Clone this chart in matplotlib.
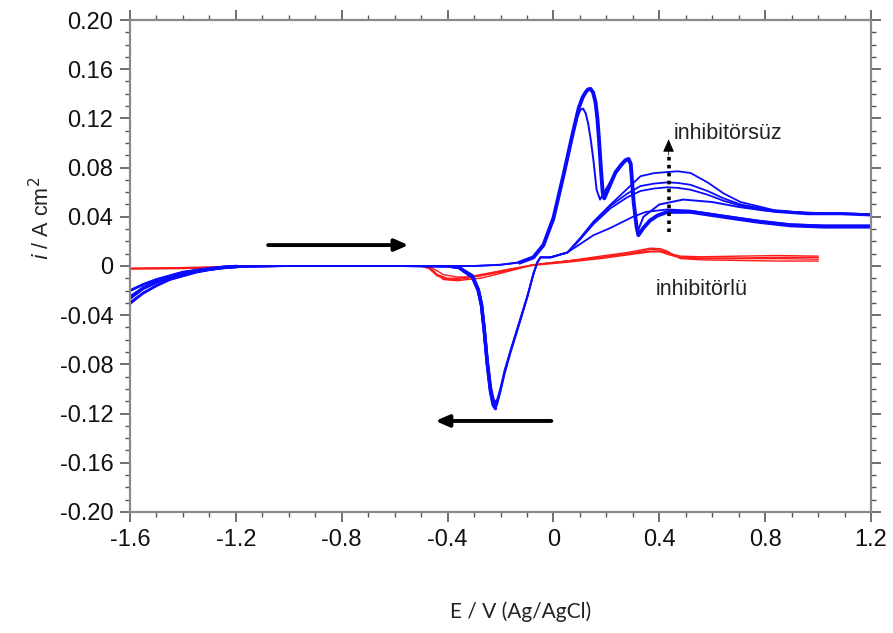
import matplotlib
matplotlib.use("Agg")
import matplotlib.pyplot as plt
from matplotlib.ticker import MultipleLocator, FixedLocator

# ---------------- data ----------------
# Blue: without inhibitor (inhibitörsüz) – forward scans
blue_f1_x = [-1.6, -1.55, -1.5, -1.45, -1.4, -1.35, -1.3, -1.25, -1.2, -1.0, -0.6, -0.3, -0.2,
             -0.125, -0.076, -0.038, 0.0, 0.038, 0.072, 0.095, 0.110, 0.121, 0.130, 0.140, 0.150, 0.159,
             0.166, 0.172, 0.180, 0.186, 0.192, 0.210, 0.234, 0.255, 0.272, 0.284, 0.292, 0.303, 0.314,
             0.321, 0.340, 0.365, 0.393, 0.431, 0.518, 0.643, 0.772, 0.896, 1.021, 1.2]
blue_f1_y = [-0.026, -0.018, -0.013, -0.009, -0.006, -0.004, -0.0025, -0.0012, -0.0005, 0.0, 0.0, 0.0, 0.001,
             0.003, 0.007, 0.017, 0.039, 0.074, 0.107, 0.128, 0.137, 0.141, 0.1435, 0.144, 0.141, 0.133,
             0.120, 0.103, 0.077, 0.060, 0.055, 0.064, 0.076, 0.082, 0.086, 0.087, 0.083, 0.052, 0.032,
             0.025, 0.031, 0.037, 0.041, 0.044, 0.044, 0.040, 0.036, 0.033, 0.032, 0.032]

blue_f2_x = [-1.6, -1.55, -1.5, -1.45, -1.4, -1.35, -1.3, -1.25, -1.2, -1.0, -0.6, -0.3, -0.2,
             -0.125, -0.076, -0.038, 0.0, 0.038, 0.072, 0.090, 0.102, 0.112, 0.122, 0.132, 0.142, 0.151,
             0.163, 0.176, 0.200, 0.234, 0.270, 0.282, 0.290, 0.301, 0.312, 0.318, 0.340, 0.40, 0.49, 0.60,
             0.70, 0.80, 1.0, 1.2]
blue_f2_y = [-0.031, -0.022, -0.016, -0.011, -0.008, -0.005, -0.003, -0.0015, -0.0006, 0.0, 0.0, 0.0, 0.001,
             0.003, 0.007, 0.016, 0.037, 0.072, 0.105, 0.121, 0.127, 0.128, 0.124, 0.115, 0.101, 0.086,
             0.062, 0.054, 0.063, 0.075, 0.085, 0.086, 0.083, 0.054, 0.034, 0.028, 0.040, 0.050, 0.054, 0.052,
             0.048, 0.045, 0.043, 0.042]

# Blue reverse scans (from +1.2 back to -1.6)
blue_r_x = [1.2, 1.085, 0.961, 0.832, 0.707, 0.643, 0.582, 0.518, 0.470, 0.431, 0.380, 0.329, 0.280, 0.216,
            0.151, 0.102, 0.053, -0.011, -0.049, -0.061, -0.076, -0.098, -0.130, -0.163, -0.185, -0.200,
            -0.212, -0.219, -0.228, -0.238, -0.250, -0.262, -0.272, -0.284, -0.306, -0.352, -0.40, -0.6,
            -1.0, -1.2, -1.25, -1.3, -1.35, -1.4, -1.45, -1.5, -1.55, -1.6]
blue_r1_y = [0.042, 0.043, 0.043, 0.0455, 0.052, 0.059, 0.068, 0.0756, 0.077, 0.0764, 0.0755, 0.073, 0.063,
             0.050, 0.036, 0.023, 0.011, 0.007, 0.007, 0.003, -0.007, -0.025, -0.048, -0.071, -0.088,
             -0.102, -0.112, -0.116, -0.113, -0.102, -0.080, -0.052, -0.032, -0.020, -0.009, -0.002,
             -0.0005, 0.0, 0.0, -0.0006, -0.0015, -0.003, -0.005, -0.008, -0.011, -0.016, -0.022, -0.030]
blue_r2_y = [0.042, 0.043, 0.043, 0.045, 0.050, 0.055, 0.061, 0.066, 0.0675, 0.068, 0.067, 0.065, 0.059,
             0.049, 0.035, 0.022, 0.011, 0.007, 0.007, 0.003, -0.007, -0.024, -0.046, -0.069, -0.085,
             -0.099, -0.108, -0.111, -0.109, -0.099, -0.078, -0.050, -0.031, -0.019, -0.008, -0.002,
             -0.0005, 0.0, 0.0, -0.0005, -0.0012, -0.0025, -0.004, -0.006, -0.009, -0.013, -0.018, -0.025]
blue_r3_y = [0.041, 0.042, 0.042, 0.044, 0.049, 0.053, 0.058, 0.062, 0.0635, 0.064, 0.063, 0.061, 0.056,
             0.047, 0.034, 0.022, 0.011, 0.007, 0.007, 0.003, -0.006, -0.024, -0.047, -0.070, -0.087,
             -0.101, -0.110, -0.113, -0.111, -0.101, -0.079, -0.051, -0.032, -0.020, -0.009, -0.002,
             -0.0005, 0.0, 0.0, -0.0004, -0.001, -0.002, -0.0035, -0.005, -0.008, -0.011, -0.015, -0.020]
blue_r4_x = [1.2, 1.02, 0.896, 0.772, 0.643, 0.518, 0.431, 0.35, 0.30, 0.216, 0.151, 0.102, 0.053, -0.011]
blue_r4_y = [0.033, 0.033, 0.034, 0.037, 0.041, 0.045, 0.046, 0.044, 0.040, 0.031, 0.025, 0.018, 0.011, 0.007]

# Red: with inhibitor (inhibitörlü)
red_f_x = [-1.6, -1.4, -1.3, -1.2, -0.8, -0.5, -0.465, -0.439, -0.416, -0.363, -0.325, -0.276, -0.200,
           -0.076, 0.05, 0.178, 0.28, 0.367, 0.405, 0.431, 0.454, 0.48, 0.556, 0.70, 0.85, 1.0]
red_f1_y = [-0.002, -0.002, -0.0015, -0.0005, 0.0, 0.0, -0.0016, -0.007, -0.011, -0.012, -0.011, -0.010, -0.006,
            0.001, 0.004, 0.007, 0.010, 0.0135, 0.0130, 0.011, 0.009, 0.007, 0.0065, 0.0065, 0.007, 0.007]
red_f2_y = [-0.0025, -0.002, -0.0015, -0.0005, 0.0, 0.0, -0.001, -0.004, -0.007, -0.009, -0.009, -0.008, -0.005,
            0.001, 0.004, 0.008, 0.011, 0.0145, 0.0140, 0.012, 0.009, 0.006, 0.005, 0.0045, 0.004, 0.004]
red_r_x = [1.0, 0.85, 0.70, 0.556, 0.48, 0.431, 0.405, 0.367, 0.28, 0.178, 0.05, -0.076, -0.15, -0.2,
           -0.276, -0.325, -0.363, -0.40, -0.44, -0.47, -0.5, -0.8, -1.2, -1.3, -1.6]
red_r1_y = [0.008, 0.0085, 0.008, 0.0075, 0.008, 0.0105, 0.012, 0.012, 0.010, 0.007, 0.004, 0.001, -0.002, -0.004,
            -0.007, -0.009, -0.010, -0.010, -0.007, -0.002, 0.0, 0.0, 0.0, -0.001, -0.002]
red_r2_y = [0.0055, 0.006, 0.006, 0.006, 0.0065, 0.0095, 0.0115, 0.0115, 0.009, 0.006, 0.003, 0.0005, -0.002, -0.004,
            -0.008, -0.010, -0.011, -0.011, -0.008, -0.002, 0.0, 0.0, 0.0, -0.001, -0.002]

x_ticks = [-1.6, -1.2, -0.8, -0.4, 0.0, 0.4, 0.8, 1.2]
x_ticklabels = ["-1.6", "-1.2", "-0.8", "-0.4", "0", "0.4", "0.8", "1.2"]
y_ticks = [-0.20, -0.16, -0.12, -0.08, -0.04, 0.0, 0.04, 0.08, 0.12, 0.16, 0.20]
y_ticklabels = ["-0.20", "-0.16", "-0.12", "-0.08", "-0.04", "0", "0.04", "0.08", "0.12", "0.16", "0.20"]

# ---------------- figure ----------------
fig = plt.figure(figsize=(8.93, 6.33), dpi=100)
ax = fig.add_axes([0.1456, 0.1912, 0.8298, 0.7772])

BLUE = "#0a0aff"
RED = "#ff1a1a"

for ry in (red_f1_y, red_f2_y):
    ax.plot(red_f_x, ry, color=RED, lw=1.0)
for ry in (red_r1_y, red_r2_y):
    ax.plot(red_r_x, ry, color=RED, lw=1.0)

for ry in (blue_r1_y, blue_r2_y, blue_r3_y):
    ax.plot(blue_r_x, ry, color=BLUE, lw=1.3)
    # thicker returning (left) flank of the cathodic peak where the cycles overlap
    ax.plot(blue_r_x[27:36], ry[27:36], color=BLUE, lw=2.4, solid_capstyle="round")
    ax.plot(blue_r_x[39:], ry[39:], color=BLUE, lw=2.0)
ax.plot(blue_r4_x, blue_r4_y, color=BLUE, lw=1.3)
ax.plot(blue_f2_x, blue_f2_y, color=BLUE, lw=1.4)
# forward scan: bundle near -1.6, thin flat part, thick anodic part
ax.plot(blue_f1_x[:9], blue_f1_y[:9], color=BLUE, lw=2.6)
ax.plot(blue_f1_x[8:14], blue_f1_y[8:14], color=BLUE, lw=1.2)
ax.plot(blue_f1_x[13:], blue_f1_y[13:], color=BLUE, lw=2.8, solid_joinstyle="round")

# scan direction arrows
ax.annotate("", xy=(-0.548, 0.017), xytext=(-1.078, 0.017),
            arrowprops=dict(arrowstyle="-|>,head_length=0.8,head_width=0.35", lw=2.8, color="black",
                            shrinkA=0, shrinkB=0))
ax.annotate("", xy=(-0.446, -0.126), xytext=(-0.008, -0.126),
            arrowprops=dict(arrowstyle="-|>,head_length=0.8,head_width=0.35", lw=2.8, color="black",
                            shrinkA=0, shrinkB=0))
# dotted vertical arrow
ax.plot([0.435, 0.435], [0.028, 0.092], color="black", lw=2.6, ls=(0, (1, 1.2)))
ax.annotate("", xy=(0.435, 0.103), xytext=(0.435, 0.090),
            arrowprops=dict(arrowstyle="-|>,head_length=0.8,head_width=0.35", lw=0.5, color="black",
                            shrinkA=0, shrinkB=0))

ax.text(0.454, 0.108, "inhibitörsüz", fontsize=15.5, family="Liberation Sans", color="#222222",
        ha="left", va="center")
ax.text(0.386, -0.0195, "inhibitörlü", fontsize=15.5, family="Liberation Sans", color="#222222",
        ha="left", va="center")

ax.set_xlim(-1.6, 1.2)
ax.set_ylim(-0.2, 0.2)
ax.xaxis.set_major_locator(FixedLocator(x_ticks))
ax.set_xticklabels(x_ticklabels)
ax.yaxis.set_major_locator(FixedLocator(y_ticks))
ax.set_yticklabels(y_ticklabels)
ax.xaxis.set_minor_locator(MultipleLocator(0.1))
ax.yaxis.set_minor_locator(MultipleLocator(0.01))

ax.tick_params(which="both", direction="out", top=True, right=True, colors="#555555",
               labelcolor="#111111")
ax.tick_params(which="major", length=7, width=1.2, labelsize=17, pad=5)
ax.tick_params(which="minor", length=3.5, width=1.0)
for lab in ax.get_xticklabels() + ax.get_yticklabels():
    lab.set_family("Liberation Sans")

for s in ax.spines.values():
    s.set_color("#8a8a8a")
    s.set_linewidth(1.6)

ax.set_xlabel("E / V (Ag/AgCl)", fontsize=15, family="Lato", color="#222222")
ax.xaxis.set_label_coords(0.527, -0.182)
ax.set_ylabel(r"$i$ / A cm$^2$", fontsize=15.5, family="Liberation Sans", color="#222222")
ax.yaxis.set_label_coords(-0.102, 0.596)

fig.savefig("out.png", dpi=100)
